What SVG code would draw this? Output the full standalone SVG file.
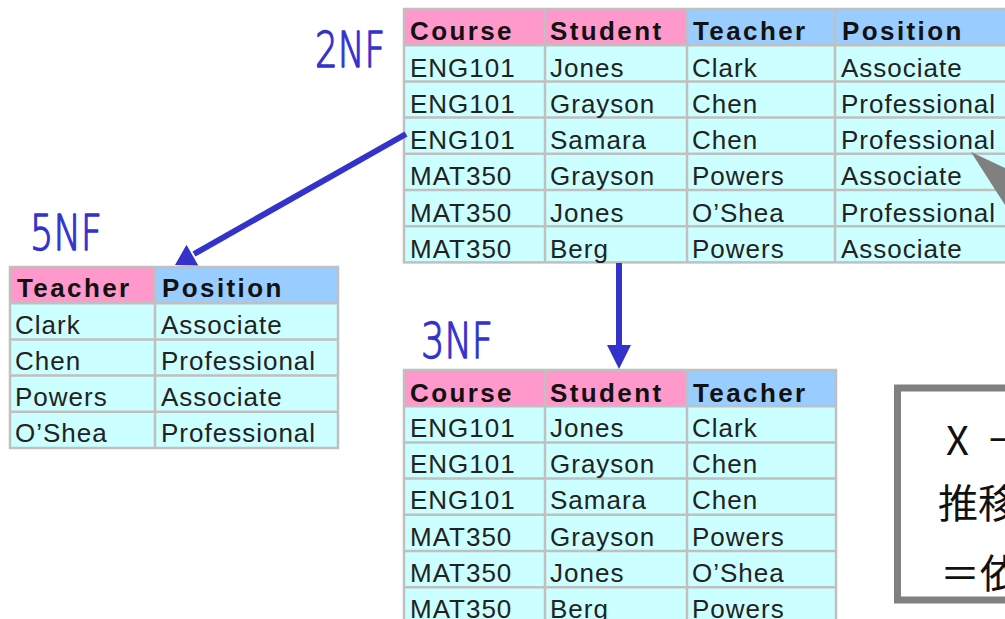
<svg xmlns="http://www.w3.org/2000/svg" width="1005" height="619" viewBox="0 0 1005 619">
<style>
.hdr{font-family:"Liberation Sans",Arial,sans-serif;font-size:26px;font-weight:bold;letter-spacing:2.4px;fill:#111}
.cell{font-family:"Liberation Sans",Arial,sans-serif;font-size:26px;letter-spacing:1px;fill:#222}
.pk{fill:#ff99cc}.nk{fill:#99ccff}.dat{fill:#ccffff}
.grid{stroke:#c0c0c0;stroke-width:2.5;fill:none}
.lbl{font-family:"DejaVu Sans","Liberation Sans",sans-serif;font-weight:200;font-size:49px;fill:#3333cc;stroke:#3333cc;stroke-width:1.4;stroke-linejoin:round}
.arrow{stroke:#3333cc;stroke-width:6;fill:none}
.head{fill:#3333cc}
.note{font-family:"Noto Sans CJK JP",sans-serif;font-size:40px;fill:#111}
</style>
<rect width="1005" height="619" fill="#ffffff"/>

<g id="table-2nf">
<rect class="pk" x="404" y="9" width="283" height="36.2"/>
<rect class="nk" x="687" y="9" width="340" height="36.2"/>
<rect class="dat" x="404" y="45.2" width="623" height="217.2"/>
<rect class="grid" x="404" y="9" width="623" height="253.4"/>
<path class="grid" d="M545 9V262.4M687 9V262.4M835 9V262.4M404 45.2H1027M404 81.4H1027M404 117.6H1027M404 153.8H1027M404 190H1027M404 226.2H1027"/>
<text class="hdr" y="40"><tspan x="410">Course</tspan><tspan x="550">Student</tspan><tspan x="693">Teacher</tspan><tspan x="842">Position</tspan></text>
<text class="cell" y="76.7"><tspan x="410">ENG101</tspan><tspan x="550">Jones</tspan><tspan x="692">Clark</tspan><tspan x="841">Associate</tspan></text>
<text class="cell" y="112.9"><tspan x="410">ENG101</tspan><tspan x="550">Grayson</tspan><tspan x="692">Chen</tspan><tspan x="841">Professional</tspan></text>
<text class="cell" y="149.1"><tspan x="410">ENG101</tspan><tspan x="550">Samara</tspan><tspan x="692">Chen</tspan><tspan x="841">Professional</tspan></text>
<text class="cell" y="185.3"><tspan x="410">MAT350</tspan><tspan x="550">Grayson</tspan><tspan x="692">Powers</tspan><tspan x="841">Associate</tspan></text>
<text class="cell" y="221.5"><tspan x="410">MAT350</tspan><tspan x="550">Jones</tspan><tspan x="692">O’Shea</tspan><tspan x="841">Professional</tspan></text>
<text class="cell" y="257.7"><tspan x="410">MAT350</tspan><tspan x="550">Berg</tspan><tspan x="692">Powers</tspan><tspan x="841">Associate</tspan></text>
</g>

<g id="table-5nf">
<rect class="pk" x="10" y="267" width="145" height="36.2"/>
<rect class="nk" x="155" y="267" width="183" height="36.2"/>
<rect class="dat" x="10" y="303.2" width="328" height="144.8"/>
<rect class="grid" x="10" y="267" width="328" height="181"/>
<path class="grid" d="M155 267V448M10 303.2H338M10 339.4H338M10 375.6H338M10 411.8H338"/>
<text class="hdr" y="297"><tspan x="17">Teacher</tspan><tspan x="162">Position</tspan></text>
<text class="cell" y="333.5"><tspan x="15">Clark</tspan><tspan x="161">Associate</tspan></text>
<text class="cell" y="369.7"><tspan x="15">Chen</tspan><tspan x="161">Professional</tspan></text>
<text class="cell" y="405.9"><tspan x="15">Powers</tspan><tspan x="161">Associate</tspan></text>
<text class="cell" y="442.1"><tspan x="15">O’Shea</tspan><tspan x="161">Professional</tspan></text>
</g>

<g id="table-3nf">
<rect class="pk" x="404" y="370" width="283" height="36.2"/>
<rect class="nk" x="687" y="370" width="149" height="36.2"/>
<rect class="dat" x="404" y="406.2" width="432" height="220"/>
<rect class="grid" x="404" y="370" width="432" height="253.4"/>
<path class="grid" d="M545 370V623.4M687 370V623.4M404 406.2H836M404 442.4H836M404 478.6H836M404 514.8H836M404 551H836M404 587.2H836"/>
<text class="hdr" y="401.5"><tspan x="410">Course</tspan><tspan x="550">Student</tspan><tspan x="693">Teacher</tspan></text>
<text class="cell" y="437"><tspan x="410">ENG101</tspan><tspan x="550">Jones</tspan><tspan x="692">Clark</tspan></text>
<text class="cell" y="473.2"><tspan x="410">ENG101</tspan><tspan x="550">Grayson</tspan><tspan x="692">Chen</tspan></text>
<text class="cell" y="509.4"><tspan x="410">ENG101</tspan><tspan x="550">Samara</tspan><tspan x="692">Chen</tspan></text>
<text class="cell" y="545.6"><tspan x="410">MAT350</tspan><tspan x="550">Grayson</tspan><tspan x="692">Powers</tspan></text>
<text class="cell" y="581.8"><tspan x="410">MAT350</tspan><tspan x="550">Jones</tspan><tspan x="692">O’Shea</tspan></text>
<text class="cell" y="618"><tspan x="410">MAT350</tspan><tspan x="550">Berg</tspan><tspan x="692">Powers</tspan></text>
</g>

<g id="label-2nf"><text class="lbl" x="315" y="67" textLength="70" lengthAdjust="spacingAndGlyphs">2NF</text></g>
<g id="label-5nf"><text class="lbl" x="30" y="250" textLength="72" lengthAdjust="spacingAndGlyphs">5NF</text></g>
<g id="label-3nf"><text class="lbl" x="421" y="358" textLength="72" lengthAdjust="spacingAndGlyphs">3NF</text></g>

<g id="callout">
<polygon points="971,152 1005,168 1005,205" fill="#808080"/>
</g>

<g id="note">
<rect x="897.5" y="388" width="200" height="212" fill="#ffffff" stroke="#808080" stroke-width="7"/>
<text class="note" x="946" y="455" font-size="44">X<tspan dx="20" font-size="40">→</tspan></text>
<text class="note" x="938" y="518">推移</text>
<text class="note" x="940" y="588">＝依</text>
</g>

<g id="connectors">
<line class="arrow" x1="406" y1="134" x2="194" y2="254"/>
<polygon class="head" points="175,265 186.5,244.7 198.3,265.5"/>
<line class="arrow" x1="619" y1="263" x2="619" y2="347"/>
<polygon class="head" points="607,345 631,345 619,369"/>
</g>
</svg>
